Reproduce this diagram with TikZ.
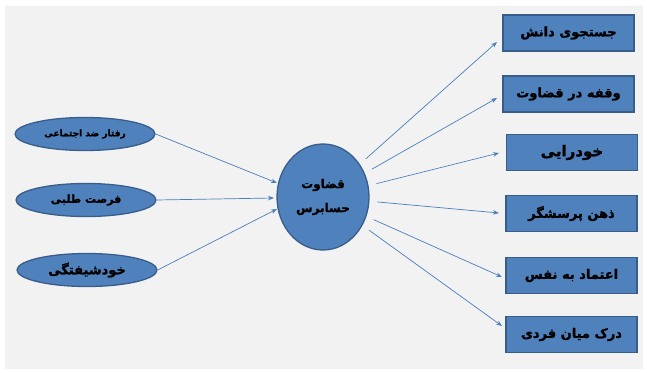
\documentclass[tikz,border=0pt]{standalone}
\usepackage{fontspec}
\usetikzlibrary{arrows.meta,shapes.geometric}
\TeXXeTstate=1
\newfontfamily\fa[Script=Arabic, BoldFont={DejaVu Sans Bold}, BoldFeatures={FakeBold=1.5}]{DejaVu Sans}
\newcommand\fasize[1]{\fa\bfseries\fontsize{#1}{#1}\selectfont}
\definecolor{panel}{HTML}{F2F2F2}
\definecolor{boxfill}{HTML}{4F81BD}
\definecolor{boxline}{HTML}{385D8A}
\definecolor{arrowline}{HTML}{4A7EBB}
\tikzset{
  factor/.style={ellipse, draw=boxline, fill=boxfill, line width=1.3pt,
    minimum width=140pt, minimum height=33pt, inner sep=0pt,
    font=\fasize{11}},
  hub/.style={ellipse, draw=boxline, fill=boxfill, line width=1.3pt,
    minimum width=92pt, minimum height=106pt, inner sep=0pt, align=center,
    font=\fa\bfseries\fontsize{12}{24}\selectfont},
  trait/.style={rectangle, draw=boxline, fill=boxfill, line width=1.3pt,
    minimum width=131pt, minimum height=36pt, inner sep=0pt,
    font=\fasize{13}},
  link/.style={draw=arrowline, line width=0.7pt,
    -{Stealth[length=6pt,width=4.5pt]}}
}
\begin{document}
\begin{tikzpicture}[x=1pt,y=-1pt]
  % page and grey panel
  \fill[white] (0,0) rectangle (647,372);
  \useasboundingbox (0,0) rectangle (647,372);
  \fill[panel] (5,6) rectangle (643,369);

  % left-hand factors
  \node[factor, font=\fasize{9}] (f1) at (85,134) {\beginR رفتار ضد اجتماعی\endR};
  \node[factor] (f2) at (86,200) {\beginR فرصت طلبی\endR};
  \node[factor, font=\fasize{13}] (f3) at (87,270) {\beginR خودشیفتگی\endR};

  % central node
  \node[hub] (c) at (323,197) {\beginR قضاوت\endR\\\beginR حسابرس\endR};

  % right-hand traits
  \node[trait] (t1) at (568.5,33)  {\beginR جستجوی دانش\endR};
  \node[trait] (t2) at (568.5,94)  {\beginR وقفه در قضاوت\endR};
  \node[trait, font=\fasize{15}] (t3) at (572,152.5) {\beginR خودرایی\endR};
  \node[trait] (t4) at (571.5,213.5) {\beginR ذهن پرسشگر\endR};
  \node[trait] (t5) at (571.5,275.5) {\beginR اعتماد به نفس\endR};
  \node[trait] (t6) at (571.5,334.5) {\beginR درک میان فردی\endR};

  % arrow end points
  \coordinate (a1) at (277,183);
  \coordinate (a2) at (274,198);
  \coordinate (a3) at (277,209);
  \coordinate (e1) at (497,42);
  \coordinate (e2) at (497,98);
  \coordinate (e3) at (499,153);
  \coordinate (e4) at (499,213);
  \coordinate (e5) at (502,277);
  \coordinate (e6) at (502,326);

  % connectors
  \draw[link] (f1.east) -- (a1);
  \draw[link] (f2.east) -- (a2);
  \draw[link] (f3.east) -- (a3);
  \foreach \i in {1,...,6}
    \draw[link, shorten <=8pt] (c) -- (e\i);
\end{tikzpicture}
\end{document}
